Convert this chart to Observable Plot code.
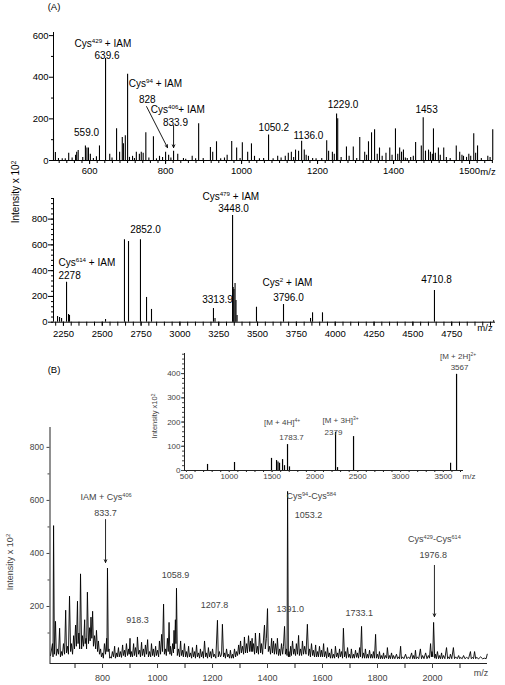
<!DOCTYPE html>
<html><head><meta charset="utf-8">
<script src="https://cdn.jsdelivr.net/npm/d3@7"></script>
<script src="https://cdn.jsdelivr.net/npm/@observablehq/plot@0.6"></script>
<style>
body{margin:0;background:#fff;}
#wrap{position:relative;width:505px;height:685px;overflow:hidden;font-family:"Liberation Sans",Arial,Helvetica,sans-serif;background:#fff;}
.panel{position:absolute;left:0;}
.lbl{position:absolute;white-space:nowrap;line-height:1;}
.lbl sup{font-size:65%;vertical-align:0;position:relative;top:-0.45em;}
</style></head><body><div id="wrap"></div>
<script>
const FONT = '"Liberation Sans", Arial, Helvetica, sans-serif';

// ---------- Panel A, top: m/z 500-1600 ----------
const a1Peaks = [[505,143],[510,38],[518,10],[528,8],[536,8],[545,35],[554,12],[563,25],[566,40],[570,48],[582,15],[589,70],[593,60],[597,60],[602,30],[610,10],[618,18],[626,70],[642,490],[653,30],[659,12],[671,152],[679,40],[686,110],[689,80],[694,119],[700,414],[705,15],[713,20],[718,10],[723,40],[731,30],[736,40],[741,35],[748,133],[756,12],[768,114],[776,8],[784,20],[792,15],[800,40],[808,25],[814,12],[821,45],[832,30],[847,10],[853,6],[870,20],[879,8],[887,176],[899,10],[918,62],[924,40],[934,90],[945,8],[955,12],[962,25],[974,91],[987,60],[996,10],[1002,85],[1016,40],[1026,80],[1034,20],[1047,8],[1058,10],[1071,122],[1083,8],[1095,20],[1104,12],[1115,20],[1123,35],[1131,40],[1137,15],[1142,50],[1150,45],[1158,92],[1165,50],[1170,25],[1176,20],[1187,10],[1196,8],[1211,10],[1224,95],[1229,45],[1239,40],[1244,30],[1250,224],[1253,200],[1262,15],[1276,65],[1283,20],[1294,65],[1303,10],[1311,110],[1324,40],[1329,25],[1334,90],[1342,133],[1350,148],[1357,30],[1363,60],[1370,20],[1380,35],[1390,60],[1396,25],[1405,152],[1411,30],[1416,60],[1421,40],[1426,50],[1431,12],[1436,10],[1445,15],[1452,20],[1458,86],[1473,70],[1478,205],[1484,45],[1492,50],[1497,40],[1502,30],[1505,152],[1510,35],[1518,60],[1523,25],[1532,60],[1539,15],[1549,10],[1565,70],[1574,40],[1580,25],[1584,20],[1592,15],[1598,30],[1603,20],[1611,129],[1616,35],[1621,70],[1631,10],[1648,20],[1654,15],[1661,148]];
const a1TicksX = [600,800,1000,1200,1400,1600];
const a1TickText = {600:"600",800:"800",1000:"1000",1200:"1200",1400:"1400",1600:"1500"};
const a1TicksY = [0,200,400,600];
const a1LabelsMid = [
  {x:635,y:562,t:"Cys{429} + IAM"},
  {x:646,y:505,t:"639.6"},
  {x:592,y:135,t:"559.0"},
  {x:1085,y:159,t:"1050.2"},
  {x:1176,y:120,t:"1136.0"},
  {x:1267,y:269,t:"1229.0"},
  {x:1487,y:245,t:"1453"}
];
const a1LabelsStart = [
  {x:703,y:370,t:"Cys{94} + IAM"},
  {x:730,y:293,t:"828"},
  {x:761,y:245,t:"Cys{406}+ IAM"},
  {x:793,y:183,t:"833.9"}
];
const a1Arrows = [{x1:750,y1:259,x2:805,y2:62},{x1:821,y1:168,x2:821,y2:62}];

// ---------- Panel A, bottom: m/z 2250-4750 ----------
const a2Peaks = [[2212,44],[2225,36],[2238,29],[2270,310],[2283,60],[2289,52],[2521,21],[2643,640],[2669,626],[2746,640],[2785,192],[2817,99],[3216,106],[3226,29],[3339,828],[3343,270],[3348,254],[3355,300],[3361,168],[3368,52],[3493,116],[3667,137],[3841,29],[3854,73],[3918,73],[4639,246],[5020,12]];
const a2TicksX = [2250,2500,2750,3000,3250,3500,3750,4000,4250,4500,4750];
const a2TicksY = [0,200,400,600,800];
const a2LabelsMid = [
  {x:3345,y:882,t:"3448.0"},
  {x:2778,y:719,t:"2852.0"},
  {x:3242,y:176,t:"3313.9"},
  {x:3699,y:192,t:"3796.0"},
  {x:4652,y:331,t:"4710.8"}
];
const a2LabelsStart = [
  {x:3145,y:976,t:"Cys{479} + IAM"},
  {x:2218,y:463,t:"Cys{614} + IAM"},
  {x:2218,y:362,t:"2278"},
  {x:3532,y:308,t:"Cys{2} + IAM"}
];

// ---------- Panel B inset: m/z 500-3500 ----------
const inPeaks = [[746,25],[1061,33],[1493,50],[1552,41],[1569,35],[1587,30],[1622,45],[1645,20],[1680,107],[1703,15],[2241,158],[2264,12],[2451,140],[3584,30],[3654,397]];
const inTicksX = [500,1000,1500,2000,2500,3000,3500];
const inTicksY = [0,100,200,300,400];
const inLabels = [
  {x:1616,y:198,t:"[M + 4H]{4+}"},
  {x:1727,y:136,t:"1783.7"},
  {x:2299,y:206,t:"[M + 3H]{3+}"},
  {x:2217,y:157,t:"2379"},
  {x:3671,y:471,t:"[M + 2H]{2+}"},
  {x:3689,y:425,t:"3567"}
];

// ---------- Panel B main: profile spectrum m/z 610-2200 ----------
const bProfile = [[611,15],[618,60],[620,10],[622,505],[625,20],[629,144],[632,15],[636,40],[640,20],[644,118],[647,10],[651,30],[654,15],[658,60],[662,20],[666,186],[669,25],[673,50],[676,20],[680,239],[684,30],[687,60],[691,20],[695,90],[698,40],[702,130],[705,50],[709,220],[711,60],[714,100],[717,40],[720,323],[724,40],[727,90],[731,50],[735,150],[737,60],[740,80],[742,40],[745,254],[749,60],[753,120],[755,70],[758,160],[761,80],[764,182],[767,50],[771,90],[775,40],[778,110],[782,30],[785,70],[789,20],[793,40],[796,10],[800,25],[803,5],[807,60],[811,20],[815,80],[816,30],[818,345],[821,30],[824,40],[826,5],[829,10],[832,5],[836,30],[840,10],[844,50],[847,5],[851,25],[854,10],[858,45],[861,10],[865,30],[869,8],[873,55],[876,15],[880,35],[883,10],[887,60],[891,15],[895,40],[897,20],[900,80],[902,10],[905,30],[909,10],[913,60],[916,15],[920,45],[924,10],[927,85],[931,20],[935,35],[938,10],[942,65],[945,15],[949,40],[953,10],[956,55],[960,20],[964,75],[967,10],[971,30],[975,10],[978,60],[982,15],[985,40],[989,10],[993,50],[996,15],[1000,35],[1004,10],[1007,70],[1011,20],[1015,95],[1018,30],[1022,209],[1025,20],[1029,40],[1032,15],[1036,80],[1039,30],[1042,140],[1045,20],[1047,50],[1051,15],[1055,60],[1058,25],[1060,110],[1062,40],[1065,150],[1067,60],[1069,269],[1072,15],[1076,40],[1080,10],[1084,70],[1087,15],[1091,35],[1094,10],[1098,60],[1102,10],[1105,30],[1109,8],[1113,50],[1116,10],[1120,25],[1124,5],[1127,45],[1131,10],[1135,30],[1138,5],[1142,55],[1145,10],[1149,25],[1153,5],[1156,40],[1160,10],[1164,30],[1167,5],[1171,70],[1175,10],[1178,25],[1182,5],[1185,45],[1189,10],[1193,30],[1196,5],[1200,40],[1204,10],[1207,20],[1212,5],[1218,148],[1221,10],[1225,30],[1229,10],[1233,20],[1236,133],[1240,10],[1244,25],[1247,5],[1251,40],[1255,10],[1258,20],[1262,5],[1265,35],[1269,5],[1273,20],[1276,5],[1280,40],[1284,10],[1287,30],[1291,15],[1295,55],[1298,20],[1302,70],[1305,25],[1309,50],[1313,20],[1316,85],[1320,25],[1324,60],[1327,25],[1331,90],[1335,30],[1338,70],[1341,30],[1344,80],[1346,30],[1349,60],[1353,20],[1356,100],[1360,25],[1364,50],[1367,20],[1371,100],[1375,25],[1378,60],[1382,20],[1385,70],[1389,130],[1392,40],[1396,80],[1400,192],[1403,30],[1407,50],[1411,20],[1415,80],[1418,25],[1422,70],[1425,20],[1429,60],[1433,20],[1436,80],[1440,15],[1444,40],[1447,15],[1451,60],[1455,20],[1458,50],[1462,125],[1465,20],[1469,40],[1471,15],[1473,634],[1476,10],[1478,30],[1481,10],[1484,50],[1487,15],[1491,70],[1495,20],[1498,40],[1502,15],[1505,60],[1509,20],[1513,91],[1516,15],[1520,40],[1524,15],[1527,70],[1531,20],[1535,50],[1540,20],[1545,133],[1549,15],[1553,40],[1556,10],[1560,60],[1564,15],[1567,35],[1571,10],[1575,55],[1578,10],[1582,30],[1585,10],[1589,50],[1593,10],[1596,35],[1600,10],[1604,60],[1607,10],[1611,30],[1615,5],[1618,45],[1622,10],[1625,25],[1629,5],[1633,40],[1636,5],[1640,20],[1644,5],[1647,50],[1651,10],[1655,25],[1658,5],[1662,40],[1665,10],[1669,30],[1673,5],[1676,118],[1680,10],[1684,30],[1687,5],[1691,45],[1695,8],[1698,20],[1702,5],[1705,40],[1709,5],[1713,20],[1716,5],[1720,35],[1724,8],[1727,25],[1731,5],[1735,45],[1738,10],[1742,125],[1745,5],[1749,25],[1753,5],[1756,40],[1760,5],[1764,20],[1767,5],[1771,35],[1775,5],[1778,20],[1782,5],[1785,30],[1789,5],[1793,95],[1796,5],[1800,20],[1804,3],[1807,30],[1811,3],[1814,15],[1818,3],[1822,25],[1825,3],[1829,15],[1833,5],[1836,45],[1840,3],[1844,15],[1847,3],[1851,25],[1855,3],[1858,15],[1863,3],[1869,20],[1873,3],[1876,10],[1880,3],[1884,50],[1887,3],[1891,10],[1896,3],[1902,20],[1907,3],[1913,10],[1918,3],[1924,25],[1928,3],[1931,15],[1935,3],[1938,35],[1941,3],[1945,10],[1950,3],[1956,40],[1960,3],[1964,15],[1969,3],[1975,25],[1980,3],[1985,15],[1989,5],[1993,60],[1996,10],[1998,30],[2001,10],[2004,140],[2008,5],[2011,20],[2014,3],[2018,30],[2022,3],[2025,15],[2029,3],[2033,25],[2036,3],[2040,15],[2045,3],[2051,45],[2055,3],[2058,10],[2062,3],[2065,20],[2070,3],[2076,45],[2080,3],[2084,10],[2090,3],[2095,15],[2099,3],[2102,8],[2108,3],[2113,15],[2118,3],[2124,8],[2131,3],[2138,30],[2141,3],[2145,8],[2149,3],[2153,30],[2157,3],[2160,8],[2168,3],[2175,10],[2182,3],[2189,5],[2195,3],[2199,20]];
const bTicksX = [800,1000,1200,1400,1600,1800,2000];
const bTicksY = [200,400,600,800];
const bLabelsMid = [
  {x:811,y:551,t:"833.7"},
  {x:1065,y:317,t:"1058.9"},
  {x:927,y:147,t:"918.3"},
  {x:1207,y:204,t:"1207.8"},
  {x:1549,y:543,t:"1053.2"},
  {x:1483,y:192,t:"1391.0"},
  {x:1734,y:174,t:"1733.1"},
  {x:2007,y:453,t:"Cys{429}-Cys{614}"},
  {x:2003,y:392,t:"1976.8"}
];
const bLabelsStart = [
  {x:720,y:611,t:"IAM + Cys{406}"},
  {x:1469,y:615,t:"Cys{94}-Cys{584}"}
];
const bArrows = [{x1:811,y1:528,x2:811,y2:366},{x1:2007,y1:355,x2:2007,y2:162}];

// ---------- helpers ----------
const wrap = document.getElementById("wrap");
const SVGNS = "http://www.w3.org/2000/svg";
// turn "{...}" parts of annotation texts into raised, smaller tspans
function supify(svg, base){
  svg.querySelectorAll("text").forEach(t => {
    const s = t.textContent;
    if (!s.includes("{")) return;
    while (t.firstChild) t.removeChild(t.firstChild);
    const parts = s.split(/(\{[^}]*\})/).filter(p => p.length);
    let up = false;
    const shift = base * 0.38;
    parts.forEach(p => {
      const ts = document.createElementNS(SVGNS, "tspan");
      if (p[0] === "{") {
        ts.textContent = p.slice(1, -1);
        ts.setAttribute("font-size", (base * 0.62).toFixed(2));
        ts.setAttribute("dy", (-shift).toFixed(2));
        up = true;
      } else {
        ts.textContent = p;
        if (up) { ts.setAttribute("dy", shift.toFixed(2)); up = false; }
      }
      t.appendChild(ts);
    });
  });
}
function place(svg, top){ svg.classList.add("panel"); svg.style.top = top + "px"; wrap.appendChild(svg); }
function label(html, x, y, size, color, rotate){
  const d = document.createElement("div");
  d.className = "lbl"; d.innerHTML = html;
  d.style.left = x + "px"; d.style.top = y + "px";
  d.style.fontSize = size + "px"; d.style.color = color;
  d.style.transform = "translate(-50%,-50%)" + (rotate ? " rotate(" + rotate + "deg)" : "");
  wrap.appendChild(d);
}
const blank = () => "";
const st = {fontFamily: FONT, background: "transparent", overflow: "visible"};

// ---------- A1 ----------
const a1 = Plot.plot({
  width: 505, height: 185, marginLeft: 53, marginRight: 12, marginTop: 32, marginBottom: 25,
  x: {domain: [505, 1663], label: null}, y: {domain: [0, 615], label: null},
  style: st,
  marks: [
    Plot.ruleX(a1Peaks, {x: d => d[0], y1: 0, y2: d => d[1], stroke: "#000", strokeWidth: 1.1}),
    Plot.ruleY([0], {stroke: "#000"}),
    Plot.ruleX([505], {stroke: "#000"}),
    Plot.axisX(d3.range(520, 1661, 20), {tickSize: 3, tickFormat: blank, label: null, color: "#000"}),
    Plot.axisX(a1TicksX, {tickSize: 4, tickPadding: 3, tickFormat: d => a1TickText[d], label: null, fontSize: 9.5, color: "#000"}),
    Plot.axisY(a1TicksY, {tickSize: 4, tickPadding: 1, label: null, fontSize: 9.5, color: "#000"}),
    Plot.axisY([100, 300, 500], {tickSize: 2, tickFormat: blank, label: null, color: "#000"}),
    Plot.text(a1LabelsMid, {x: "x", y: "y", text: "t", textAnchor: "middle", fontSize: 10, fill: "#000"}),
    Plot.text(a1LabelsStart, {x: "x", y: "y", text: "t", textAnchor: "start", fontSize: 10, fill: "#000"}),
    Plot.arrow(a1Arrows, {x1: "x1", y1: "y1", x2: "x2", y2: "y2", headLength: 5, headAngle: 50, stroke: "#000", strokeWidth: 0.9})
  ]
});
supify(a1, 10);
place(a1, 0);

// ---------- A2 ----------
const a2 = Plot.plot({
  width: 505, height: 155, marginLeft: 53, marginRight: 10, marginTop: 8, marginBottom: 23.3,
  x: {domain: [2186, 5032], label: null}, y: {domain: [0, 960], label: null},
  style: st,
  marks: [
    Plot.ruleX(a2Peaks, {x: d => d[0], y1: 0, y2: d => d[1], stroke: "#000", strokeWidth: 1.1}),
    Plot.ruleY([0], {stroke: "#000"}),
    Plot.ruleX([2186], {stroke: "#000"}),
    Plot.axisX(d3.range(2200, 5001, 50), {tickSize: 4, tickFormat: blank, label: null, color: "#000"}),
    Plot.axisX(a2TicksX, {tickSize: 4, tickPadding: 4, tickFormat: d => String(d), label: null, fontSize: 9.5, color: "#000"}),
    Plot.axisY(a2TicksY, {tickSize: 5, tickPadding: 1, label: null, fontSize: 9.5, color: "#000"}),
    Plot.axisY(d3.range(0, 961, 40), {tickSize: 2, tickFormat: blank, label: null, color: "#000"}),
    Plot.text(a2LabelsMid, {x: "x", y: "y", text: "t", textAnchor: "middle", fontSize: 10, fill: "#000"}),
    Plot.text(a2LabelsStart, {x: "x", y: "y", text: "t", textAnchor: "start", fontSize: 10, fill: "#000"})
  ]
});
supify(a2, 10);
place(a2, 190);

// ---------- B main ----------
const GR = "#444";
const b = Plot.plot({
  width: 505, height: 265, marginLeft: 49.5, marginRight: 18, marginTop: 7, marginBottom: 22,
  x: {domain: [609, 2200], label: null}, y: {domain: [-15, 875], label: null},
  style: st,
  marks: [
    Plot.line(bProfile, {x: d => d[0], y: d => d[1], stroke: "#000", strokeWidth: 0.9}),
    Plot.ruleY([-15], {stroke: "#222"}),
    Plot.ruleX([609], {stroke: "#222"}),
    Plot.axisX(d3.range(700, 2101, 100), {tickSize: 5, tickFormat: blank, label: null, color: "#222"}),
    Plot.axisX(bTicksX, {tickSize: 5, tickPadding: 6, tickFormat: d => String(d), label: null, fontSize: 9, color: GR}),
    Plot.axisY(bTicksY, {tickSize: 3, tickPadding: 3, label: null, fontSize: 8.5, color: GR}),
    Plot.axisY([100, 300, 500, 700], {tickSize: 2, tickFormat: blank, label: null, color: GR}),
    Plot.text(bLabelsMid, {x: "x", y: "y", text: "t", textAnchor: "middle", fontSize: 9, fill: GR}),
    Plot.text(bLabelsStart, {x: "x", y: "y", text: "t", textAnchor: "start", fontSize: 9, fill: GR}),
    Plot.arrow(bArrows, {x1: "x1", y1: "y1", x2: "x2", y2: "y2", headLength: 5, headAngle: 50, stroke: "#111", strokeWidth: 0.9})
  ]
});
supify(b, 9);
place(b, 420);

// ---------- B inset ----------
const ins = Plot.plot({
  width: 505, height: 140, marginLeft: 184, marginRight: 42, marginTop: 8, marginBottom: 15,
  x: {domain: [477, 3735], label: null}, y: {domain: [0, 483], label: null},
  style: st,
  marks: [
    Plot.ruleX(inPeaks, {x: d => d[0], y1: 0, y2: d => d[1], stroke: "#000", strokeWidth: 1.2}),
    Plot.ruleY([0], {stroke: "#222"}),
    Plot.ruleX([477], {stroke: "#222"}),
    Plot.axisX(d3.range(500, 3701, 100), {tickSize: 2, tickFormat: blank, label: null, color: "#222"}),
    Plot.axisX(inTicksX, {tickSize: 2, tickPadding: 1, tickFormat: d => String(d), label: null, fontSize: 8, color: GR}),
    Plot.axisY(inTicksY, {tickSize: 3, tickPadding: 1, label: null, fontSize: 8, color: GR}),
    Plot.axisY(d3.range(0, 481, 20), {tickSize: 2, tickFormat: blank, label: null, color: GR}),
    Plot.text(inLabels, {x: "x", y: "y", text: "t", fontSize: 8, fill: GR})
  ]
});
supify(ins, 8);
place(ins, 345);

// ---------- free texts ----------
label("(A)", 54, 7, 9.5, "#000");
label("(B)", 54, 370, 9.5, "#000");
label("m/z", 488, 172, 9.5, "#000");
label("m/z", 485, 328, 9.5, "#000");
label("m/z", 481, 673, 9, GR);
label("m/z", 469, 477, 8, GR);
label("Intensity x 10<sup>2</sup>", 16, 192, 10, "#000", -90);
label("Intensity x 10<sup>2</sup>", 10, 562, 9, GR, -90);
label("Intensity x10<sup>2</sup>", 155, 416, 7.5, GR, -90);
</script>
</body></html>
